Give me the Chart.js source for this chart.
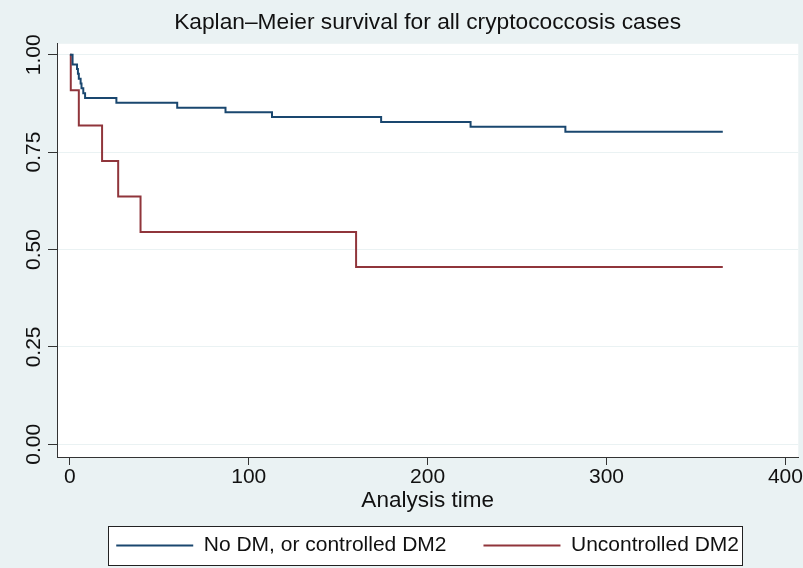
<!DOCTYPE html>
<html>
<head>
<meta charset="utf-8">
<style>
  html, body { margin: 0; padding: 0; background: #eaf2f3; overflow: hidden; }
  canvas { display: block; }
</style>
</head>
<body>
<canvas id="km-chart" width="803" height="568"></canvas>
<script src="https://cdn.jsdelivr.net/npm/chart.js@4.4.1/dist/chart.umd.min.js"></script>
<script>
const noDmTimes = [0, 1.5, 4, 4.5, 5, 6, 6.5, 7.5, 8.5, 26, 60, 87, 113, 174, 224, 277, 365];
const noDmSurvival = [1, 0.975, 0.963, 0.951, 0.938, 0.926, 0.914, 0.901, 0.889, 0.877, 0.864, 0.852, 0.840, 0.827, 0.815, 0.802, 0.802];
const uncontrolledTimes = [0, 0.5, 5, 18, 27, 39.5, 160, 365];
const uncontrolledSurvival = [1, 0.909, 0.818, 0.727, 0.636, 0.545, 0.455, 0.455];
const seriesLabels = ['No DM, or controlled DM2', 'Uncontrolled DM2'];
const xTicks = [0, 100, 200, 300, 400];
const yTicks = [0, 0.25, 0.5, 0.75, 1];

Chart.defaults.font.family = '"Liberation Sans", Arial, sans-serif';
Chart.defaults.font.size = 21;
Chart.defaults.color = '#111';

const BACKGROUND = '#eaf2f3';
const NAVY = '#1a476f';
const MAROON = '#90353b';
const AXIS = '#333';

function toPoints(times, values) {
    return times.map((t, i) => ({ x: t, y: values[i] }));
}

// stata-like frame: tinted page, white plot region, boxed legend
const stataFrame = {
    id: 'stataFrame',
    beforeDraw(chart) {
        const { ctx, chartArea } = chart;
        ctx.save();
        ctx.fillStyle = BACKGROUND;
        ctx.fillRect(0, 0, chart.width, chart.height);
        ctx.fillStyle = '#fff';
        ctx.fillRect(chartArea.left, chartArea.top, chartArea.right - chartArea.left, chartArea.bottom - chartArea.top);

        const boxes = chart.legend.legendHitBoxes;
        if (boxes && boxes.length) {
            const first = boxes[0];
            const last = boxes[boxes.length - 1];
            const left = Math.round(first.left - 8);
            const right = Math.round(last.left + last.width + 3);
            const top = Math.round(first.top - 9);
            const height = Math.round(first.height + 18);
            ctx.fillRect(left, top, right - left, height);
            ctx.strokeStyle = '#222';
            ctx.lineWidth = 1;
            ctx.strokeRect(left + 0.5, top + 0.5, right - left, height);
        }
        ctx.restore();
    }
};

new Chart(document.getElementById('km-chart'), {
    type: 'line',
    data: {
        datasets: [
            {
                label: seriesLabels[0],
                data: toPoints(noDmTimes, noDmSurvival),
                borderColor: NAVY,
                backgroundColor: NAVY,
                borderWidth: 2,
                pointRadius: 0,
                stepped: true,
                fill: false
            },
            {
                label: seriesLabels[1],
                data: toPoints(uncontrolledTimes, uncontrolledSurvival),
                borderColor: MAROON,
                backgroundColor: MAROON,
                borderWidth: 2,
                pointRadius: 0,
                stepped: true,
                fill: false
            }
        ]
    },
    options: {
        responsive: false,
        animation: false,
        devicePixelRatio: 1,
        layout: {
            autoPadding: false,
            padding: { top: 0, left: 0, right: 1, bottom: 2 }
        },
        plugins: {
            title: {
                display: true,
                fullSize: false,
                text: 'Kaplan–Meier survival for all cryptococcosis cases',
                color: '#111',
                font: { size: 22.75, weight: 'normal' },
                padding: { top: 9, bottom: 7.5 }
            },
            legend: {
                position: 'bottom',
                fullSize: false,
                labels: {
                    boxWidth: 77,
                    boxHeight: 2,
                    padding: 37,
                    color: '#111',
                    font: { size: 21 },
                    generateLabels(chart) {
                        return Chart.defaults.plugins.legend.labels.generateLabels(chart)
                            .map(item => ({ ...item, lineWidth: 0, fillStyle: item.strokeStyle }));
                    }
                }
            },
            tooltip: { enabled: false }
        },
        scales: {
            x: {
                type: 'linear',
                min: -7.2,
                max: 407.2,
                afterBuildTicks: axis => { axis.ticks = xTicks.map(v => ({ value: v })); },
                afterFit: scale => { scale.height = 41; },
                grid: { drawOnChartArea: false, tickLength: 8, tickColor: AXIS },
                border: { color: AXIS, width: 1 },
                ticks: { padding: 0, maxRotation: 0, color: '#111', callback: v => v },
                title: {
                    display: true,
                    text: 'Analysis time',
                    color: '#111',
                    font: { size: 22.5 },
                    padding: { top: 0, bottom: -16 }
                }
            },
            y: {
                min: -0.0326,
                max: 1.028,
                afterBuildTicks: axis => { axis.ticks = yTicks.map(v => ({ value: v })); },
                afterFit: scale => { scale.width = 57; },
                grid: { color: BACKGROUND, lineWidth: 1, tickLength: 9, tickColor: AXIS },
                border: { color: AXIS, width: 1 },
                ticks: {
                    minRotation: 90,
                    maxRotation: 90,
                    crossAlign: 'center',
                    padding: -6.4,
                    color: '#111',
                    callback: v => v.toFixed(2)
                }
            }
        }
    },
    plugins: [stataFrame]
});
</script>
</body>
</html>
